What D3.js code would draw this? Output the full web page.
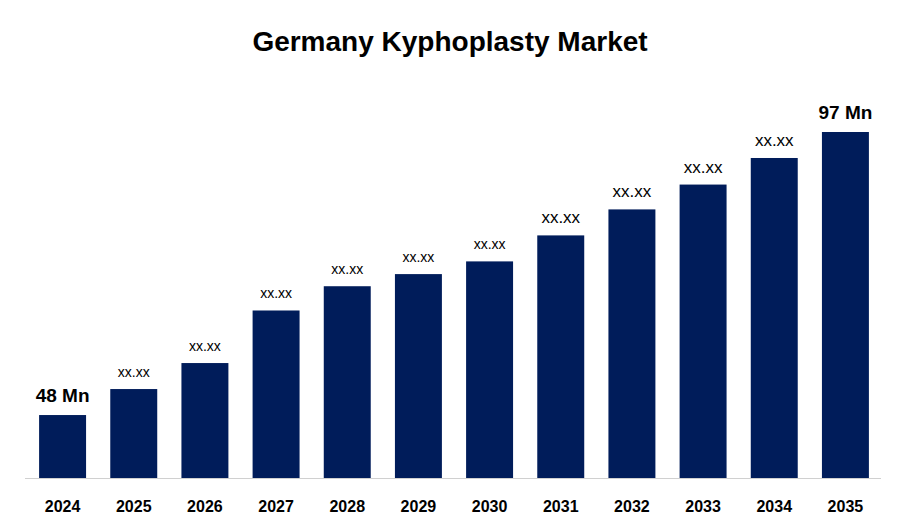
<!DOCTYPE html><html><head><meta charset="utf-8">
<script src="https://cdn.jsdelivr.net/npm/d3@7"></script>
<style>body{margin:0;background:#fff}</style></head><body>
<svg id="c" width="900" height="525"></svg>
<script>
const years=["2024","2025","2026","2027","2028","2029","2030","2031","2032","2033","2034","2035"];
const values=[48,52.5,57,66.1,70.3,72.4,74.6,79.1,83.6,87.9,92.5,97];
const labels=["48 Mn","xx.xx","xx.xx","xx.xx","xx.xx","xx.xx","xx.xx","xx.xx","xx.xx","xx.xx","xx.xx","97 Mn"];
const svg=d3.select("#c");
const base=478;
const x=d3.scaleBand().domain(years).range([27,881]).paddingInner(0.34).paddingOuter(0.17);
const y=d3.scaleLinear().domain([37.1,97]).range([base,132]);
svg.append("text").attr("x",450).attr("y",51).attr("text-anchor","middle")
 .attr("font-family","'Liberation Sans', sans-serif").attr("font-weight","bold").attr("font-size",28).text("Germany Kyphoplasty Market");
svg.selectAll("rect").data(values).join("rect")
 .attr("x",(d,i)=>x(years[i])).attr("width",x.bandwidth())
 .attr("y",d=>y(d)).attr("height",d=>base-y(d)).attr("fill","#001c5a");
svg.append("line").attr("x1",25).attr("x2",881).attr("y1",base+0.5).attr("y2",base+0.5).attr("stroke","#d0d0d0");
svg.selectAll(".yl").data(years).join("text").attr("x",d=>x(d)+x.bandwidth()/2).attr("y",512)
 .attr("text-anchor","middle").attr("font-family","'Liberation Sans', sans-serif").attr("font-weight","bold").attr("font-size",16).text(d=>d);
svg.selectAll(".vl").data(values).join("text")
 .attr("x",(d,i)=>x(years[i])+x.bandwidth()/2).attr("y",d=>y(d)-(d===48||d===97?13:12))
 .attr("text-anchor","middle").attr("font-family","'Liberation Sans', sans-serif")
 .attr("font-weight",(d,i)=>(i==0||i==11)?"bold":"normal")
 .attr("font-size",(d,i)=>(i==0||i==11)?19:(i>=7?17:14))
 .text((d,i)=>labels[i]);
</script></body></html>
